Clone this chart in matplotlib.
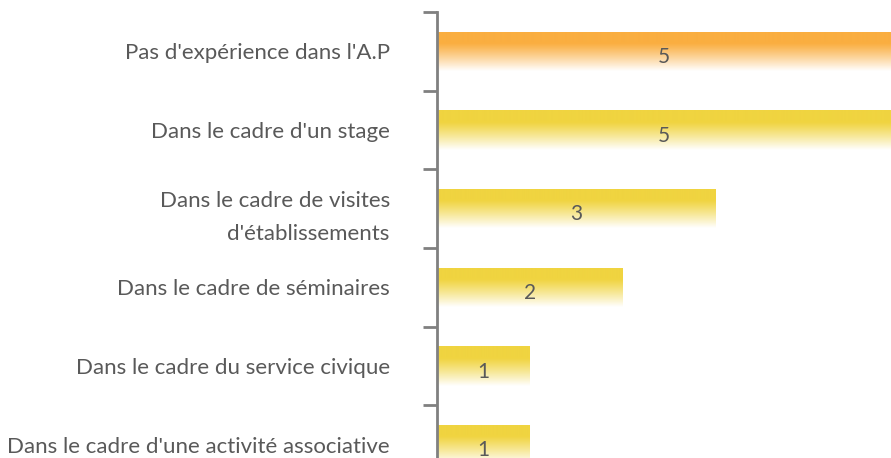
import numpy as np
import matplotlib
matplotlib.use("Agg")
import matplotlib.pyplot as plt
from matplotlib.colors import to_rgb

categories = [
    "Pas d'expérience dans l'A.P",
    "Dans le cadre d'un stage",
    "Dans le cadre de visites\nd'établissements",
    "Dans le cadre de séminaires",
    "Dans le cadre du service civique",
    "Dans le cadre d'une activité associative",
]
values = [5, 5, 3, 2, 1, 1]
bar_colors = ["#FAAE40", "#F0D440", "#F0D440", "#F0D440", "#F0D440", "#F0D440"]

plt.rcParams['font.family'] = ['Lato', 'DejaVu Sans']
TEXT = "#595959"
AXC = "#808080"

W, H = 891, 458
fig = plt.figure(figsize=(W / 100, H / 100), dpi=100)
ax = fig.add_axes([437 / W, -26 / H, 454 / W, 472 / H])
xmax = 454 / 92.7
n = len(categories)

def gradient(color, N=200):
    c = np.array(to_rgb(color))
    t = np.linspace(0, 1, N)
    f = np.clip((t - 0.3) / 0.7, 0, 1) ** 1.1
    rows = c[None, :] * (1 - f[:, None]) + np.array([1, 1, 1])[None, :] * f[:, None]
    return rows[:, None, :]

bh = 0.5
for i, (cat, v, col) in enumerate(zip(categories, values, bar_colors)):
    y = n - 1 - i
    bar = ax.barh(y, v, height=bh, color='none', edgecolor='none')[0]
    im = ax.imshow(gradient(col), extent=(0, v, y - bh / 2, y + bh / 2),
                   aspect='auto', origin='upper', interpolation='bilinear', zorder=2)
    im.set_clip_path(bar)
    xc = min(v, xmax) / 2
    ax.text(xc, y - 0.07, str(v), ha='center', va='center', fontsize=15,
            color=TEXT, zorder=3)

ax.set_xlim(0, xmax)
ax.set_ylim(-0.5, n - 0.5)

for s in ['top', 'right', 'bottom']:
    ax.spines[s].set_visible(False)
ax.spines['left'].set_color(AXC)
ax.spines['left'].set_linewidth(2)
ax.set_xticks([])
ax.set_yticks(np.arange(-0.5, n, 1.0))
ax.set_yticklabels([])
ax.tick_params(axis='y', which='major', length=10, width=2, color=AXC, direction='out')
ax.set_yticks(np.arange(n), minor=True)
ax.set_yticklabels(categories[::-1], minor=True, fontsize=16, color=TEXT,
                   linespacing=1.85)
ax.tick_params(axis='y', which='minor', length=0, pad=34)

fig.savefig("out.png", dpi=100)
